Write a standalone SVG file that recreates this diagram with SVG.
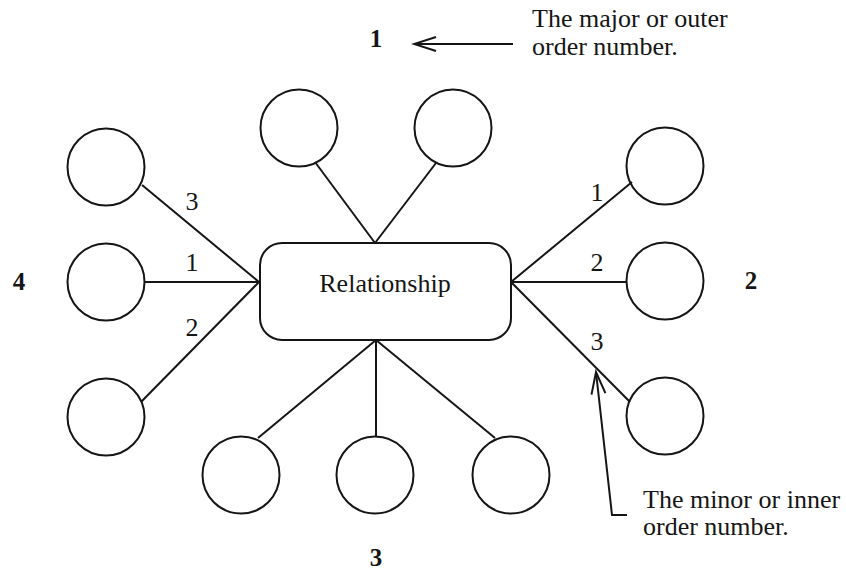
<svg xmlns="http://www.w3.org/2000/svg" width="846" height="570" viewBox="0 0 846 570">
  <style>
    .node { fill: none; stroke: #151515; stroke-width: 2; }
    .edge { fill: none; stroke: #151515; stroke-width: 2; }
    .t { font-family: "Liberation Serif", "Times New Roman", serif; fill: #151515; }
    .lbl { font-size: 26px; text-anchor: middle; }
    .ord { font-size: 25px; font-weight: bold; text-anchor: middle; }
    .note { font-size: 26px; }
  </style>
  <defs>
    <marker id="openV" markerUnits="userSpaceOnUse" markerWidth="28" markerHeight="20" viewBox="-25 -10 28 20" refX="0" refY="0" orient="auto">
      <path d="M-22,-7 L0,0 L-22,7" fill="none" stroke="#151515" stroke-width="2"/>
    </marker>
  </defs>

  <rect width="846" height="570" fill="#ffffff"/>

  <!-- connectors -->
  <g id="connectors" class="edge">
    <!-- top pair -->
    <line x1="315" y1="162" x2="375" y2="243"/>
    <line x1="436" y1="163" x2="375" y2="243"/>
    <!-- left fan -->
    <line x1="142" y1="185" x2="259" y2="282"/>
    <line x1="145" y1="282" x2="259" y2="282"/>
    <line x1="141" y1="402" x2="259" y2="282"/>
    <!-- right fan -->
    <line x1="511" y1="282" x2="632" y2="182"/>
    <line x1="511" y1="282" x2="627" y2="282"/>
    <line x1="511" y1="282" x2="630" y2="402"/>
    <!-- bottom fan -->
    <line x1="376" y1="340" x2="258" y2="438"/>
    <line x1="376" y1="340" x2="376" y2="436"/>
    <line x1="376" y1="340" x2="495" y2="438"/>
  </g>

  <!-- central relationship -->
  <g id="relationship">
    <rect class="node" x="260" y="243" width="251" height="97" rx="22" ry="22" fill="#ffffff"/>
    <text class="t" x="385" y="292" font-size="26" text-anchor="middle">Relationship</text>
  </g>

  <!-- entity circles -->
  <g id="top-left"><circle class="node" cx="299" cy="128" r="38.5"/></g>
  <g id="top-right"><circle class="node" cx="453" cy="128" r="38.5"/></g>
  <g id="left-1"><circle class="node" cx="106" cy="167" r="38.5"/></g>
  <g id="left-2"><circle class="node" cx="106" cy="282" r="38.5"/></g>
  <g id="left-3"><circle class="node" cx="106" cy="417" r="38.5"/></g>
  <g id="right-1"><circle class="node" cx="665" cy="166" r="38.5"/></g>
  <g id="right-2"><circle class="node" cx="665" cy="281" r="38.5"/></g>
  <g id="right-3"><circle class="node" cx="665" cy="416" r="38.5"/></g>
  <g id="bottom-1"><circle class="node" cx="241" cy="475" r="38.5"/></g>
  <g id="bottom-2"><circle class="node" cx="375" cy="475" r="38.5"/></g>
  <g id="bottom-3"><circle class="node" cx="511" cy="475" r="38.5"/></g>

  <!-- inner order numbers -->
  <g id="inner-labels" class="t lbl">
    <text x="192" y="210">3</text>
    <text x="192" y="271">1</text>
    <text x="192" y="336">2</text>
    <text x="597" y="201">1</text>
    <text x="597" y="271">2</text>
    <text x="597" y="350">3</text>
  </g>

  <!-- outer order numbers -->
  <g id="outer-labels" class="t ord">
    <text x="376" y="47">1</text>
    <text x="751" y="289">2</text>
    <text x="376" y="566">3</text>
    <text x="19" y="290">4</text>
  </g>

  <!-- callouts -->
  <g id="major-note">
    <path class="edge" d="M513,44 L414,44" marker-end="url(#openV)"/>
    <text class="t note" x="532" y="27">The major or outer</text>
    <text class="t note" x="532" y="55">order number.</text>
  </g>
  <g id="minor-note">
    <path class="edge" d="M627,515 L612,515 L596,372" marker-end="url(#openV)"/>
    <text class="t note" x="643" y="508">The minor or inner</text>
    <text class="t note" x="643" y="535">order number.</text>
  </g>
</svg>
